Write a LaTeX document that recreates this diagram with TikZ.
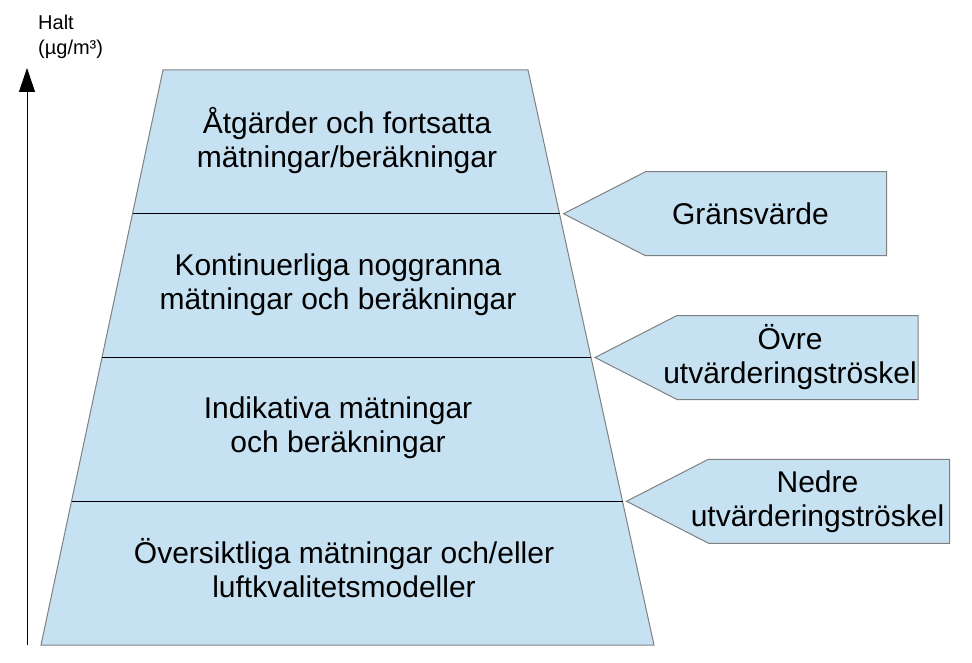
\documentclass[tikz,border=0pt]{standalone}
\usepackage{fontspec}
\setmainfont{Liberation Sans}
\usetikzlibrary{arrows.meta,calc}
\definecolor{ljusbla}{RGB}{198,226,242}
\definecolor{kant}{RGB}{128,128,128}
\tikzset{
  niva/.style={fill=ljusbla,draw=kant,line width=1pt},
  grans/.style={draw=black,line width=0.8pt},
  etikett/.style={font=\fontsize{30}{34}\selectfont,align=center,inner sep=0pt},
}
\begin{document}
\begin{tikzpicture}[x=1pt,y=-1pt]
\useasboundingbox (0,0) rectangle (972,663);
\coordinate (tl) at (163,70);
\coordinate (tr) at (528,70);
\coordinate (bl) at (41,645);
\coordinate (br) at (654,645);
\draw[niva] (tl) -- (tr) -- (br) -- (bl) -- cycle;
\foreach \t/\n in {0.25/a,0.5/b,0.75/c}{
  \coordinate (l\n) at ($(tl)!\t!(bl)$);
  \coordinate (r\n) at ($(tr)!\t!(br)$);
  \draw[grans] (l\n) -- (r\n);
}
\coordinate (y0) at (27,645);
\coordinate (y1) at (27,68);
\draw[line width=1pt,-{Triangle[width=16pt,length=24pt]}] (y0) -- (y1);
\node[anchor=north west,inner sep=0pt,align=left,font=\fontsize{20}{25}\selectfont] (halt) at (38,15) {Halt\\(µg/m³)};
\node[etikett] (atg) at (347,141) {Åtgärder och fortsatta\\mätningar/beräkningar};
\node[etikett] (kont) at (338,285) {Kontinuerliga noggranna\\mätningar och beräkningar};
\node[etikett] (ind) at (338,428) {Indikativa mätningar\\och beräkningar};
\node[etikett] (ovs) at (344,568) {Översiktliga mätningar och/eller\\luftkvalitetsmodeller};
\foreach \n/\txt/\dx in {a/Gränsvärde/187,b/{Övre\\utvärderingströskel}/195,c/{Nedre\\utvärderingströskel}/191}{
  \coordinate (p\n) at ($(r\n)+(4,0)$);
  \draw[niva] (p\n) -- ++(82,-42) -- ++(241,0) -- ++(0,84) -- ++(-241,0) -- cycle;
  \node[etikett] (t\n) at ($(p\n)+(\dx,0)$) {\txt};
}
\end{tikzpicture}
\end{document}
